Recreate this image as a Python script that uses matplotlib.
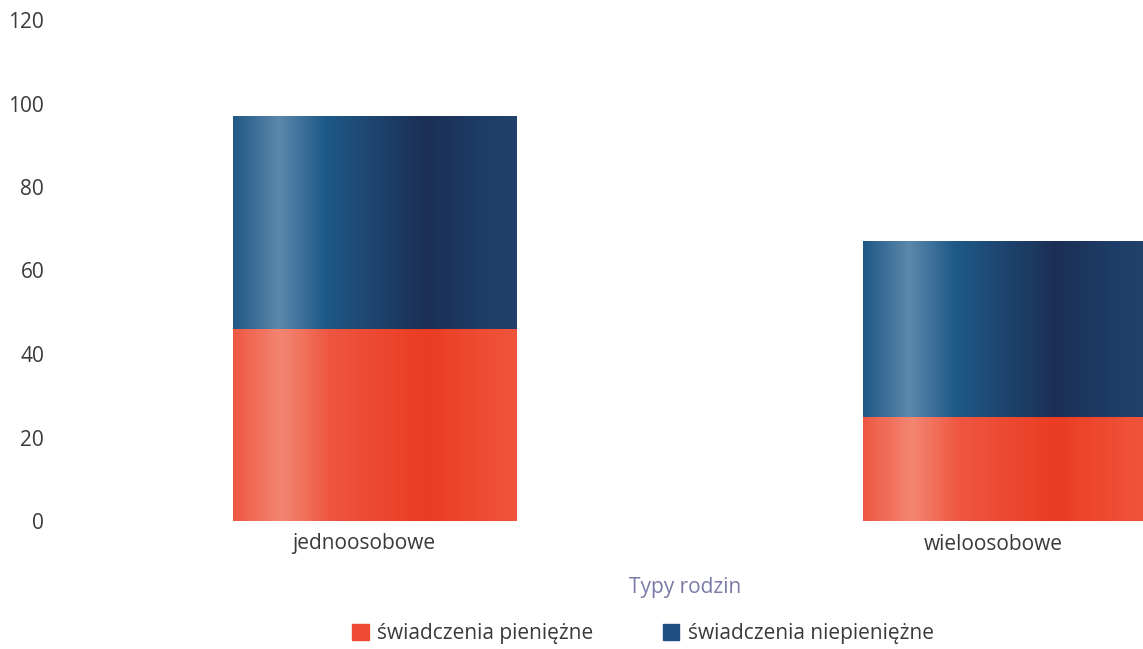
import numpy as np
import matplotlib.pyplot as plt
from matplotlib.colors import LinearSegmentedColormap
from matplotlib.patches import Patch
from matplotlib.transforms import ScaledTranslation

plt.rcParams['font.family'] = ['Open Sans', 'DejaVu Sans']

# data
categories = ['jednoosobowe', 'wieloosobowe']
pieniezne = [46, 25]
niepieniezne = [51, 42]
series_names = ['świadczenia pieniężne', 'świadczenia niepieniężne']

# cylinder-like shading for each series
red_cmap = LinearSegmentedColormap.from_list('red', [
    (0.0, '#ee5843'), (0.17, '#f38672'), (0.34, '#ef5640'),
    (0.68, '#ea3c22'), (0.9, '#ef4e34'), (1.0, '#f0553c')])
blue_cmap = LinearSegmentedColormap.from_list('blue', [
    (0.0, '#1f5886'), (0.16, '#5c88ac'), (0.32, '#1f5a88'),
    (0.68, '#1b2f55'), (0.88, '#1e3d68'), (1.0, '#21416b')])
grad = np.linspace(0, 1, 256).reshape(1, -1)

fig = plt.figure(figsize=(11.43, 6.49), dpi=100)
ax = fig.add_axes([59.5 / 1143, 128 / 649, (1143 - 59.5) / 1143, 501 / 649])

x = np.arange(len(categories))
b1 = ax.bar(x, pieniezne, width=0.45, color='#ef4a30')
b2 = ax.bar(x, niepieniezne, width=0.45, bottom=pieniezne, color='#1f4f80')

for bars, cmap in [(b1, red_cmap), (b2, blue_cmap)]:
    for p in bars:
        x0, y0 = p.get_x(), p.get_y()
        w, h = p.get_width(), p.get_height()
        ax.imshow(grad, cmap=cmap, aspect='auto', interpolation='bicubic',
                  extent=[x0, x0 + w, y0, y0 + h], zorder=2)
        p.set_visible(False)

ax.set_xlim(-0.5, -0.5 + (1143 - 59.5) / 630)
ax.set_ylim(0, 120)
ax.set_yticks(range(0, 121, 20))
ax.set_xticks(x)
ax.set_xticklabels(categories)
for s in ax.spines.values():
    s.set_visible(False)
ax.tick_params(length=0, labelsize=15, labelcolor='#3a3a3a')
ax.tick_params(axis='y', pad=11)
ax.tick_params(axis='x', pad=9)
# category labels sit a bit left of the bar centres in the original
shift = ScaledTranslation(-11 / 100, 0, fig.dpi_scale_trans)
for lab in ax.get_xticklabels():
    lab.set_transform(lab.get_transform() + shift)
ax.set_xlabel('Typy rodzin', fontsize=15, color='#7a7aa6')
ax.xaxis.set_label_coords((685 - 59.5) / (1143 - 59.5), -56 / 501)

handles = [Patch(color='#f04a32'), Patch(color='#1f4f80')]
fig.legend(handles, series_names, loc='center', bbox_to_anchor=(643 / 1143, 1 - 634 / 649),
           ncol=2, frameon=False, fontsize=15, handlelength=0.8, handleheight=0.8,
           handletextpad=0.4, columnspacing=3.3, labelcolor='#3a3a3a')

fig.savefig('out.png', dpi=100)
